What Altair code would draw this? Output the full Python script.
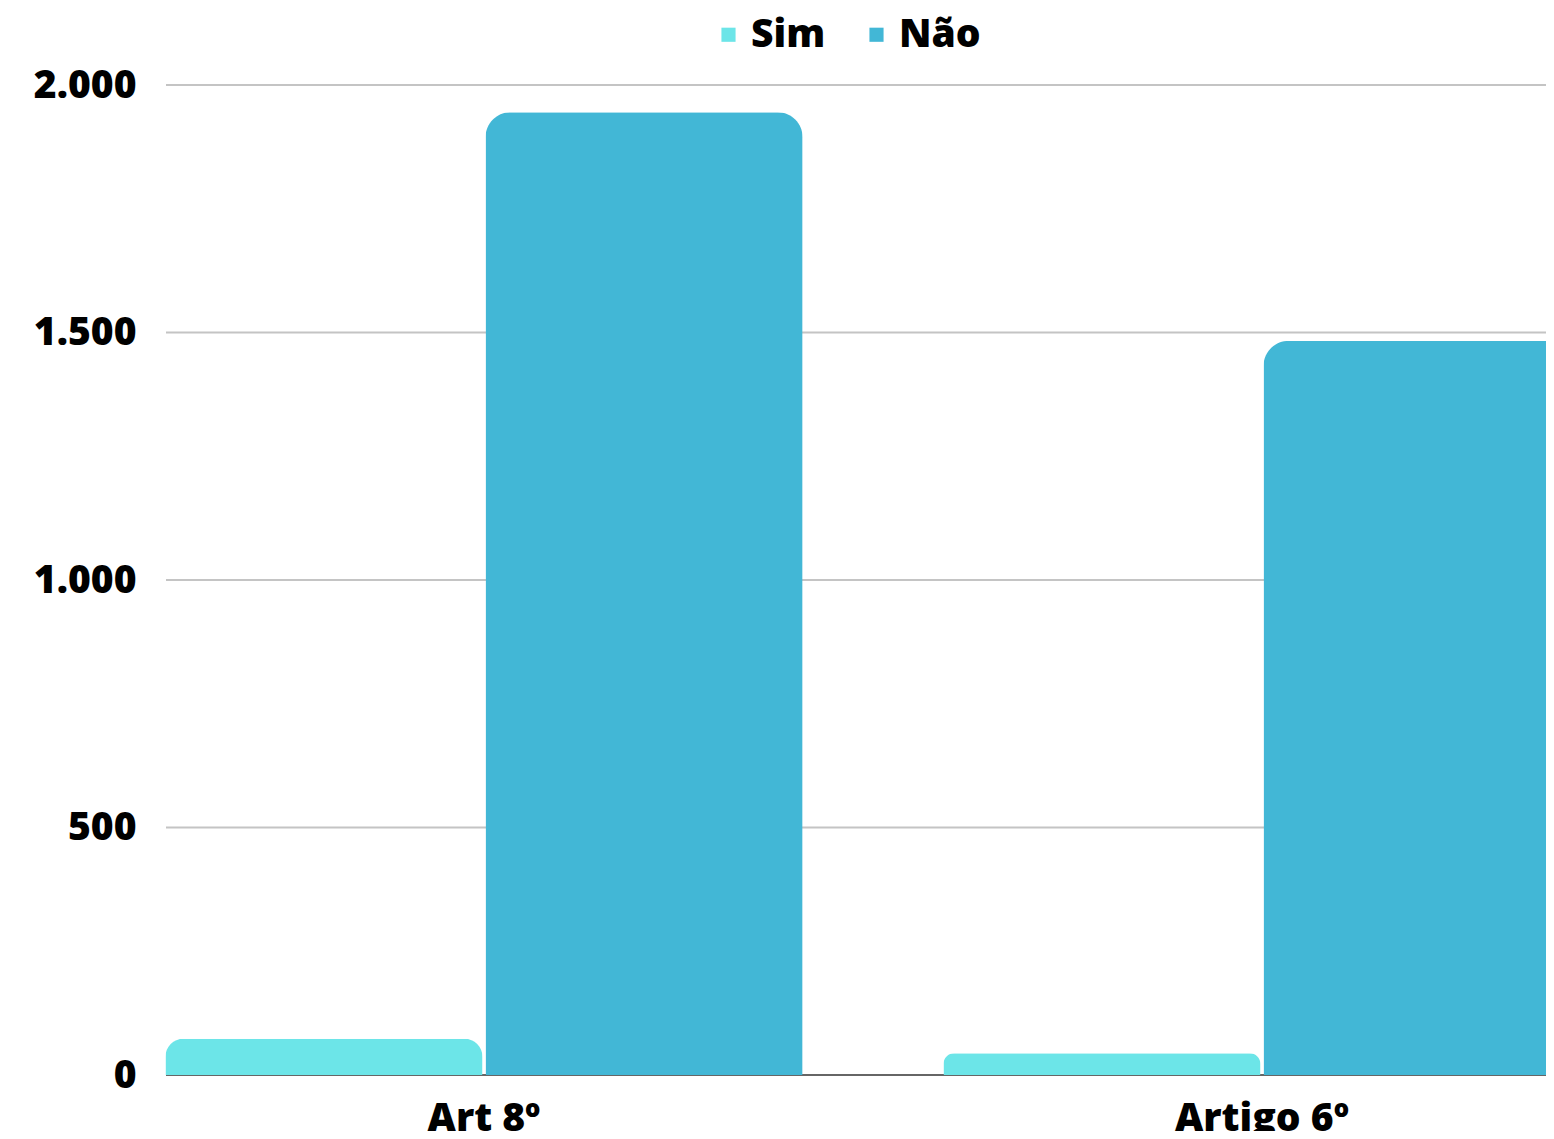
import altair as alt
import pandas as pd

categories = ["Art 8º", "Art 8º", "Artigo 6º", "Artigo 6º"]
series = ["Sim", "Não", "Sim", "Não"]
values = [73, 1945, 44, 1483]
tick_values = [0, 500, 1000, 1500, 2000]

df = pd.DataFrame({"cat": categories, "serie": series, "valor": values})
grid_df = pd.DataFrame({"v": tick_values})

FONT = "Open Sans"
FS = 39
W, H = 1380, 990
yscale = alt.Scale(domain=[0, 2000], nice=False)
yaxis = alt.Axis(title=None, values=tick_values,
                 labelExpr="replace(format(datum.value, ','), ',', '.')",
                 labelFontSize=FS, labelFont=FONT, labelFontWeight=800,
                 labelColor="#000000", labelPadding=30, ticks=False,
                 domain=False, grid=False)

grid = alt.Chart(grid_df).mark_rule(color="#c4c4c4", strokeWidth=2).encode(
    y=alt.Y("v:Q", scale=yscale, axis=yaxis),
    x=alt.value(0), x2=alt.value(W),
)

bars = alt.Chart(df).mark_bar(
    cornerRadiusTopLeft=25, cornerRadiusTopRight=25
).encode(
    x=alt.X("cat:N", sort=["Art 8º", "Artigo 6º"],
            scale=alt.Scale(range=[-71, 1485], paddingInner=0, paddingOuter=0),
            axis=alt.Axis(title=None, labelAngle=0, labelFontSize=FS, labelFont=FONT,
                          labelFontWeight=800, labelColor="#000000", labelPadding=24,
                          ticks=False, domain=False, grid=False)),
    xOffset=alt.XOffset("serie:N", sort=["Sim", "Não"],
                        scale=alt.Scale(paddingInner=0.0094, paddingOuter=0.22)),
    y=alt.Y("valor:Q", scale=yscale, axis=yaxis),
    color=alt.Color("serie:N", sort=["Sim", "Não"],
                    scale=alt.Scale(domain=["Sim", "Não"], range=["#6ce5e8", "#42b7d6"]),
                    legend=alt.Legend(title=None, orient="none", direction="horizontal",
                                      legendX=543, legendY=-70, symbolType="square",
                                      symbolSize=200, labelFontSize=FS, labelFont=FONT,
                                      labelFontWeight=800, labelColor="#000000",
                                      columnPadding=31, labelOffset=3)),
)

axis_line = alt.Chart(pd.DataFrame({"v": [0]})).mark_rule(color="#666666", strokeWidth=2).encode(
    y=alt.Y("v:Q", scale=yscale, axis=yaxis),
    x=alt.value(0), x2=alt.value(W),
)

final = alt.layer(grid, axis_line, bars).properties(
    width=W, height=H,
    autosize=alt.AutoSizeParams(type="none"),
    padding={"left": 158, "top": 77, "right": 0, "bottom": 56},
).configure_view(stroke=None)

final.save("out.html", embed_options={"renderer": "svg", "actions": False})
